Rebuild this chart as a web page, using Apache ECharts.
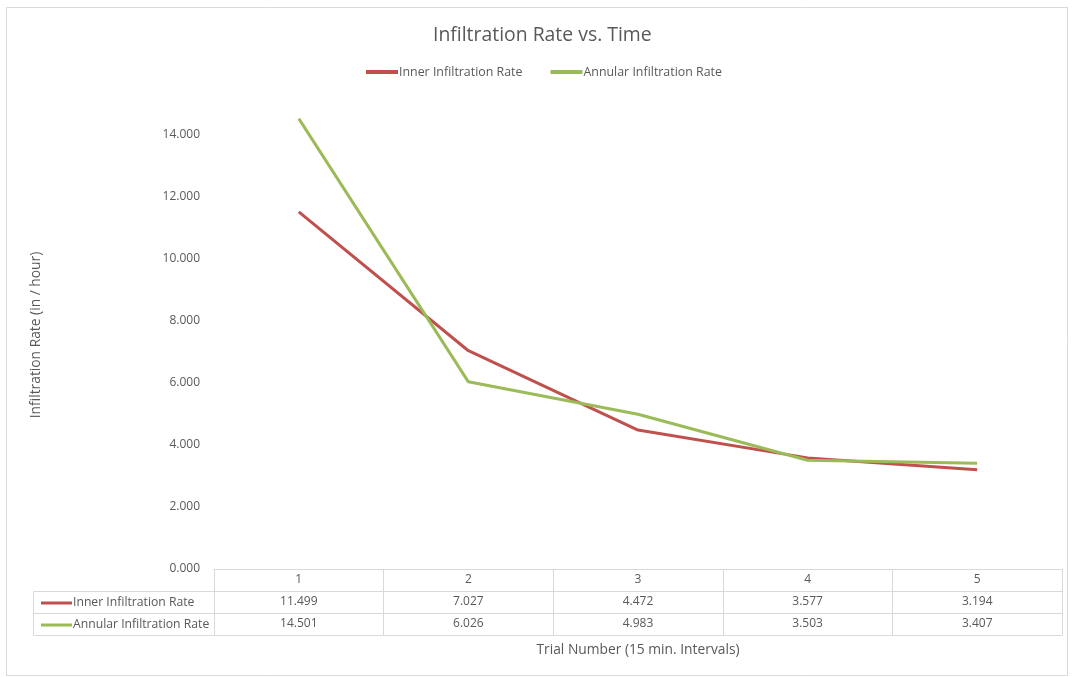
<!DOCTYPE html>
<html>
<head>
<meta charset="utf-8">
<script src="https://cdn.jsdelivr.net/npm/echarts@6/dist/echarts.min.js"></script>
<style>
html,body{margin:0;padding:0;background:#fff;}
#chart{width:1074px;height:677px;}
</style>
</head>
<body>
<div id="chart"></div>
<script>
const categories = ['1', '2', '3', '4', '5'];
const innerRate = [11.499, 7.027, 4.472, 3.577, 3.194];
const annularRate = [14.501, 6.026, 4.983, 3.503, 3.407];
const seriesNames = ['Inner Infiltration Rate', 'Annular Infiltration Rate'];
const yTicks = { min: 0, max: 16, interval: 2 };

const FONT = 'Open Sans';
const TXT = '#595959';
const GRIDC = '#d9d9d9';
const RED = '#c0504d';
const GREEN = '#9bbb59';

const chart = echarts.init(document.getElementById('chart'));
const fmt = v => Number(v).toFixed(3);

const tableAxis = (data, offset, extra) => Object.assign({
  type: 'category', gridIndex: 0, position: 'bottom', offset: offset,
  data: data,
  axisLine: { show: true, lineStyle: { color: GRIDC, width: 1 } },
  axisTick: { show: false },
  axisLabel: { interval: 0, margin: 5, color: TXT, fontFamily: FONT, fontSize: 12 },
  splitLine: { show: false }
}, extra || {});

chart.setOption({
  animation: false,
  textStyle: { fontFamily: FONT },
  title: {
    text: 'Infiltration Rate vs. Time', left: 428, top: 21,
    textStyle: { fontFamily: FONT, fontSize: 19.4, fontWeight: 'normal', color: TXT }
  },
  legend: [
    {
      data: seriesNames, top: 61, left: 361, selectedMode: false,
      icon: 'rect', itemWidth: 32, itemHeight: 4, itemGap: 28,
      textStyle: { fontFamily: FONT, fontSize: 12.4, color: TXT, padding: [0, 0, 0, -4] }
    },
    {
      data: seriesNames, top: 592, left: 36, orient: 'vertical', selectedMode: false,
      icon: 'rect', itemWidth: 31, itemHeight: 3, itemGap: 10,
      textStyle: { fontFamily: FONT, fontSize: 12.2, color: TXT, padding: [0, 0, 0, -4] }
    }
  ],
  grid: { left: 214, right: 12, top: 72, bottom: 108, containLabel: false },
  xAxis: [
    tableAxis(categories, 0, {
      axisTick: { show: true, interval: 0, length: 66, inside: false, lineStyle: { color: GRIDC } }
    }),
    tableAxis(innerRate.map(fmt), 22),
    tableAxis(annularRate.map(fmt), 44),
    tableAxis(categories, 66, {
      axisLabel: { show: false },
      name: 'Trial Number (15 min. Intervals)', nameLocation: 'middle', nameGap: 8,
      nameTextStyle: { fontFamily: FONT, fontSize: 13.8, color: TXT }
    })
  ],
  yAxis: {
    type: 'value', min: yTicks.min, max: yTicks.max, interval: yTicks.interval,
    axisLine: { show: false }, axisTick: { show: false }, splitLine: { show: false },
    axisLabel: { formatter: fmt, color: TXT, fontFamily: FONT, fontSize: 12, margin: 14, showMaxLabel: false }
  },
  series: [
    { name: seriesNames[0], type: 'line', data: innerRate, xAxisIndex: 0, symbol: 'none',
      lineStyle: { color: RED, width: 3 }, itemStyle: { color: RED }, clip: false },
    { name: seriesNames[1], type: 'line', data: annularRate, xAxisIndex: 0, symbol: 'none',
      lineStyle: { color: GREEN, width: 3 }, itemStyle: { color: GREEN }, clip: false }
  ],
  graphic: [
    { type: 'rect', silent: true, shape: { x: 6.5, y: 7.5, width: 1061, height: 668 },
      style: { fill: 'none', stroke: GRIDC, lineWidth: 1 } },
    { type: 'polyline', silent: true, shape: { points: [[214, 591.5], [33.5, 591.5], [33.5, 635.5], [214, 635.5]] },
      style: { fill: 'none', stroke: GRIDC, lineWidth: 1 } },
    { type: 'line', silent: true, shape: { x1: 33.5, y1: 613.5, x2: 214, y2: 613.5 },
      style: { stroke: GRIDC, lineWidth: 1 } },
    { type: 'text', silent: true, x: 36, y: 335, rotation: Math.PI / 2,
      style: { text: 'Infiltration Rate (in / hour)', fill: TXT, fontFamily: FONT, fontSize: 13.8,
        align: 'center', verticalAlign: 'middle' } }
  ]
});
</script>
</body>
</html>
